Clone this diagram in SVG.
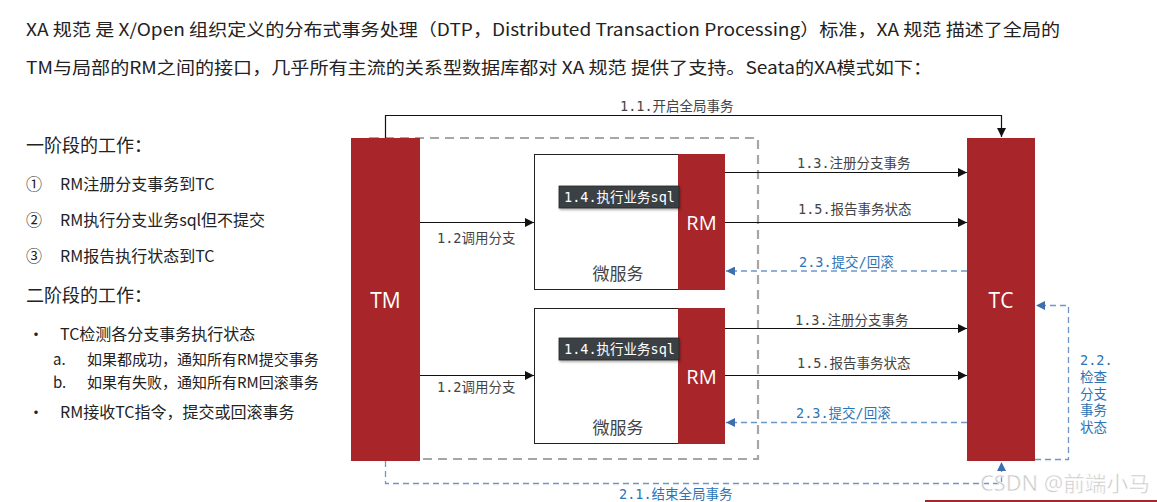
<svg xmlns="http://www.w3.org/2000/svg" width="1157" height="502" viewBox="0 0 1157 502">
<style>
.hdr{font-family:"Noto Sans CJK SC","Noto Sans",sans-serif;font-size:17px;fill:#222}
.h2{font-family:"Noto Sans CJK SC","Noto Sans",sans-serif;font-size:18px;fill:#222}
.it{font-family:"Noto Sans CJK SC","Noto Sans",sans-serif;font-size:16px;fill:#222}
.sub{font-family:"Noto Sans CJK SC","Noto Sans",sans-serif;font-size:15px;fill:#222}
.red{fill:#a82529}
.big{font-family:"Open Sans","Noto Sans",sans-serif;font-size:21px;fill:#fff;text-anchor:middle}
.rm{font-family:"Open Sans","Noto Sans",sans-serif;font-size:20px;fill:#fff;text-anchor:middle}
.lbl{font-family:"DejaVu Sans Mono","Noto Sans CJK SC",monospace;font-size:13.5px;fill:#444}
.blbl{font-family:"DejaVu Sans Mono","Noto Sans CJK SC",monospace;font-size:13.5px;fill:#2e74b5}
.ms{font-family:"Noto Sans CJK SC",sans-serif;font-size:17px;fill:#444;text-anchor:middle}
.sql{font-family:"DejaVu Sans Mono","Noto Sans CJK SC",monospace;font-size:13.5px;fill:#fff}
.solid{stroke:#111;stroke-width:1.2;fill:none}
.bdash{stroke:#6f97c6;stroke-width:1.3;fill:none;stroke-dasharray:6 4}
</style>
<defs>
<marker id="ab" viewBox="0 0 10 10" refX="10" refY="5" markerWidth="9" markerHeight="9" markerUnits="userSpaceOnUse" orient="auto"><path d="M0,0 L10,5 L0,10 z" fill="#111"/></marker>
<marker id="ablue" viewBox="0 0 10 10" refX="10" refY="5" markerWidth="9" markerHeight="9" markerUnits="userSpaceOnUse" orient="auto"><path d="M0,0 L10,5 L0,10 z" fill="#3d6fae"/></marker>
<filter id="sh" x="-10%" y="-20%" width="130%" height="160%"><feDropShadow dx="1" dy="1.5" stdDeviation="1" flood-color="#000" flood-opacity="0.35"/></filter>
</defs>

<g id="header">
<text class="hdr" x="26" y="36" textLength="1034" lengthAdjust="spacingAndGlyphs">XA 规范 是 X/Open 组织定义的分布式事务处理（DTP，Distributed Transaction Processing）标准，XA 规范 描述了全局的</text>
<text class="hdr" x="26" y="74" textLength="906" lengthAdjust="spacingAndGlyphs">TM与局部的RM之间的接口，几乎所有主流的关系型数据库都对 XA 规范 提供了支持。Seata的XA模式如下：</text>
</g>

<g id="notes">
<text class="h2" x="26" y="152">一阶段的工作：</text>
<text class="it" x="26" y="190">①</text><text class="it" x="60" y="190">RM注册分支事务到TC</text>
<text class="it" x="26" y="226">②</text><text class="it" x="60" y="226">RM执行分支业务sql但不提交</text>
<text class="it" x="26" y="262">③</text><text class="it" x="60" y="262">RM报告执行状态到TC</text>
<text class="h2" x="26" y="302">二阶段的工作：</text>
<text class="it" x="28" y="340">•</text><text class="it" x="60" y="340">TC检测各分支事务执行状态</text>
<text class="sub" x="53" y="365">a.</text><text class="sub" x="87" y="365">如果都成功，通知所有RM提交事务</text>
<text class="sub" x="53" y="388">b.</text><text class="sub" x="87" y="388">如果有失败，通知所有RM回滚事务</text>
<text class="it" x="28" y="418">•</text><text class="it" x="60" y="418">RM接收TC指令，提交或回滚事务</text>
</g>

<g id="boundary">
<rect x="370" y="138" width="388" height="321" fill="none" stroke="#a6a6a6" stroke-width="2.2" stroke-dasharray="9 6"/>
</g>

<g id="TM">
<rect class="red" x="351" y="138" width="69" height="323"/>
<text class="big" x="385.5" y="308">TM</text>
</g>

<g id="TC">
<rect class="red" x="967" y="138" width="68" height="323"/>
<text class="big" x="1001" y="308">TC</text>
</g>

<g id="ms1">
<rect x="534.5" y="154.5" width="190" height="135" fill="#fff" stroke="#222" stroke-width="1"/>
<rect class="red" x="678" y="154" width="47" height="136"/>
<text class="rm" x="701.5" y="230">RM</text>
<text class="ms" x="618" y="280">微服务</text>
<rect x="559" y="186" width="120" height="22" fill="#3b4144" stroke="#222" stroke-width="0.8" filter="url(#sh)"/>
<text class="sql" x="564" y="202">1.4.执行业务sql</text>
</g>

<g id="ms2">
<rect x="534.5" y="308.5" width="190" height="135" fill="#fff" stroke="#222" stroke-width="1"/>
<rect class="red" x="678" y="308" width="47" height="136"/>
<text class="rm" x="701.5" y="384">RM</text>
<text class="ms" x="618" y="434">微服务</text>
<rect x="559" y="338" width="120" height="22" fill="#3b4144" stroke="#222" stroke-width="0.8" filter="url(#sh)"/>
<text class="sql" x="564" y="354">1.4.执行业务sql</text>
</g>

<g id="connectors">
<path class="solid" d="M385.5,138 V115.5 H1001.5 V137" marker-end="url(#ab)"/>
<path class="solid" d="M420,222.5 H534" marker-end="url(#ab)"/>
<path class="solid" d="M420,375.5 H534" marker-end="url(#ab)"/>
<path class="solid" d="M725,172.5 H967" marker-end="url(#ab)"/>
<path class="solid" d="M725,222.5 H967" marker-end="url(#ab)"/>
<path class="solid" d="M725,328.5 H967" marker-end="url(#ab)"/>
<path class="solid" d="M725,375.5 H967" marker-end="url(#ab)"/>
<path class="bdash" d="M967,271 H726" marker-end="url(#ablue)"/>
<path class="bdash" d="M967,422.5 H726" marker-end="url(#ablue)"/>
<path class="bdash" d="M1035,459.5 H1068.5 V305.5 H1036" marker-end="url(#ablue)"/>
<path class="bdash" d="M385.5,461 V483.5 H1001.5 V462" marker-end="url(#ablue)"/>
</g>

<g id="labels">
<text class="lbl" x="620" y="111">1.1.开启全局事务</text>
<text class="lbl" x="437" y="243">1.2调用分支</text>
<text class="lbl" x="437" y="392">1.2调用分支</text>
<text class="lbl" x="797" y="168">1.3.注册分支事务</text>
<text class="lbl" x="798" y="214">1.5.报告事务状态</text>
<text class="blbl" x="799" y="267">2.3.提交/回滚</text>
<text class="lbl" x="795" y="325">1.3.注册分支事务</text>
<text class="lbl" x="797" y="368">1.5.报告事务状态</text>
<text class="blbl" x="796" y="418">2.3.提交/回滚</text>
<text class="blbl" x="619" y="499">2.1.结束全局事务</text>
<text class="blbl" x="1080" y="365">2.2.</text>
<text class="blbl" x="1080" y="382">检查</text>
<text class="blbl" x="1080" y="399">分支</text>
<text class="blbl" x="1080" y="415">事务</text>
<text class="blbl" x="1080" y="432">状态</text>
</g>

<g id="watermark">
<text x="980" y="491" font-family="'Noto Sans','Noto Sans CJK SC',sans-serif" font-size="21" fill="#c8c8c8" stroke="#fff" stroke-width="0.5" textLength="170" lengthAdjust="spacingAndGlyphs">CSDN @前端小马</text>
<rect x="925" y="500" width="232" height="2" fill="#a82529"/>
</g>
</svg>
